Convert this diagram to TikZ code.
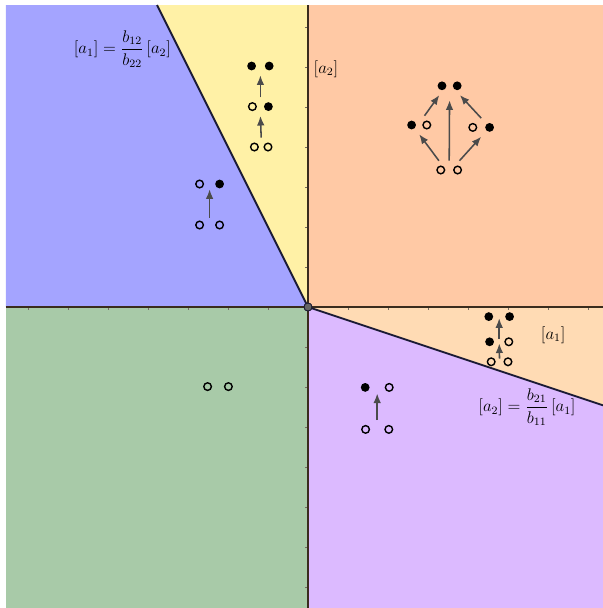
\documentclass[tikz,border=0pt]{standalone}
\usepackage{amsmath}
\usepackage{tikz}
\usepackage{xcolor}
\usetikzlibrary{arrows.meta}
\definecolor{regblue}{RGB}{164,164,255}
\definecolor{regyellow}{RGB}{255,241,166}
\definecolor{regorange}{RGB}{255,201,165}
\definecolor{regpeach}{RGB}{255,219,180}
\definecolor{regpurple}{RGB}{220,186,255}
\definecolor{reggreen}{RGB}{168,202,168}
\definecolor{axisdark}{RGB}{58,44,30}
\definecolor{borderdark}{RGB}{26,26,52}
\definecolor{arrowgray}{RGB}{75,75,75}

\newcommand{\dotpair}[5]{%
	\node[pairbox] (#1) at (#2) {};
	\node[#4] (#1l) at ([xshift=-#3cm]#1.center) {};
	\node[#5] (#1r) at ([xshift=#3cm]#1.center) {};}

\begin{document}
\begin{tikzpicture}[
		axisline/.style={line width=1.3pt, draw=axisdark},
		border/.style={line width=1.3pt, draw=borderdark},
		tick/.style={line width=0.4pt, draw=axisdark!70},
		pairbox/.style={rectangle, inner sep=0pt, minimum width=0.5cm, minimum height=0.45cm},
		opendot/.style={circle, draw=black, line width=1pt, fill=none, inner sep=0pt, minimum size=0.19cm},
		fulldot/.style={circle, fill=black, inner sep=0pt, minimum size=0.22cm},
		origindot/.style={circle, draw=borderdark, fill=black!60, line width=0.6pt, inner sep=0pt, minimum size=0.2cm},
		lbl/.style={font=\large, inner sep=1pt},
		arr/.style={-{Latex[length=2.4mm, width=1.9mm]}, line width=1.1pt, draw=arrowgray}
	]
		\useasboundingbox (-7.7,-7.525) rectangle (7.375,7.675);
		\fill[regblue] (-7.55,0) -- (-7.55,7.55) -- (-3.775,7.55) -- (0,0) -- cycle;
		\fill[regyellow] (-3.775,7.55) -- (0,7.55) -- (0,0) -- cycle;
		\fill[regorange] (0,0) -- (0,7.55) -- (7.375,7.55) -- (7.375,0) -- cycle;
		\fill[regpeach] (0,0) -- (7.375,0) -- (7.375,-2.458) -- cycle;
		\fill[regpurple] (0,0) -- (7.375,-2.458) -- (7.375,-7.525) -- (0,-7.525) -- cycle;
		\fill[reggreen] (-7.55,0) -- (0,0) -- (0,-7.525) -- (-7.55,-7.525) -- cycle;

		\foreach \i in {-7,...,-1,1,2,...,7} {
			\draw[tick] (\i,0) -- (\i,-0.08);
			\draw[tick] (0,\i) -- (-0.08,\i);
		}

		\node[origindot] (O) at (0,0) {};
		\coordinate (xl) at (-7.55,0);
		\coordinate (xr) at (7.375,0);
		\coordinate (yb) at (0,-7.525);
		\coordinate (yt) at (0,7.55);
		\coordinate (bt) at (-3.775,7.55);
		\coordinate (br) at (7.375,-2.458);
		\draw[axisline] (xl) -- (xr);
		\draw[axisline] (yb) -- (yt);
		\draw[border] (O.center) -- (bt);
		\draw[border] (O.center) -- (br);
		\node[origindot] at (O) {};

		\node[lbl] (ruleone) at (-4.64,6.45) {$[a_1]=\dfrac{b_{12}}{b_{22}}\,[a_2]$};
		\node[lbl] (ruletwo) at (5.475,-2.5) {$[a_2]=\dfrac{b_{21}}{b_{11}}\,[a_1]$};
		\node[lbl] (axtwo) at (0.45,5.95) {$[a_2]$};
		\node[lbl] (axone) at (6.13,-0.7) {$[a_1]$};

		\dotpair{y1}{-1.19,6.025}{0.22}{fulldot}{fulldot}
		\dotpair{y2}{-1.19,5.01}{0.2}{opendot}{fulldot}
		\dotpair{y3}{-1.17,4.0}{0.17}{opendot}{opendot}

		\dotpair{b1}{-2.46,3.075}{0.25}{opendot}{fulldot}
		\dotpair{b2}{-2.46,2.05}{0.25}{opendot}{opendot}

		\dotpair{g1}{-2.25,-1.99}{0.26}{opendot}{opendot}

		\dotpair{p1}{1.73,-2.01}{0.3}{fulldot}{opendot}
		\dotpair{p2}{1.73,-3.06}{0.29}{opendot}{opendot}

		\dotpair{o1}{3.54,5.53}{0.19}{fulldot}{fulldot}
		\dotpair{o2}{2.78,4.55}{0.19}{fulldot}{opendot}
		\dotpair{o3}{4.33,4.49}{0.21}{opendot}{fulldot}
		\dotpair{o4}{3.53,3.425}{0.21}{opendot}{opendot}

		\dotpair{q1}{4.78,-0.24}{0.26}{fulldot}{fulldot}
		\dotpair{q2}{4.78,-0.87}{0.24}{fulldot}{opendot}
		\dotpair{q3}{4.79,-1.37}{0.21}{opendot}{opendot}

		\foreach \a/\b in {y3.north/y2.south, y2.north/y1.south,
				o4.north west/o2.south, o2.60/o1.south west, o4.north east/o3.south,
				o3.north/o1.south east}
			\draw[arr] (\a) -- (\b);
		\draw[arr, shorten >=0.13cm] (o4.north) -- (o1.south);
		\draw[arr, shorten <=-0.05cm, shorten >=-0.1cm] (b2.north) -- (b1.south);
		\draw[arr, shorten >=-0.08cm] (p2.north) -- (p1.south);
		\foreach \a/\b in {q3/q2, q2/q1}
			\draw[arr, shorten <=0.08cm, shorten >=0.04cm] (\a.center) -- (\b.center);
	\end{tikzpicture}
\end{document}
